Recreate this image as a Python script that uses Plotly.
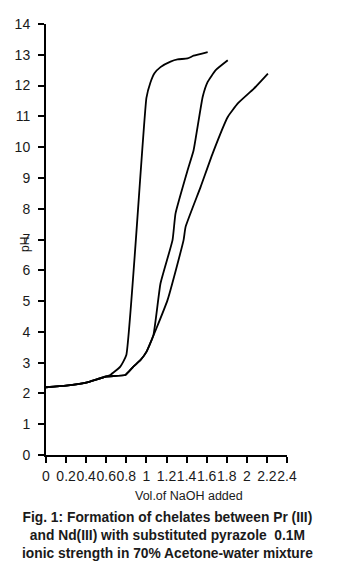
import plotly.graph_objects as go

# Curve 1 (steepest)
x1 = [0, 0.2, 0.4, 0.6, 0.64, 0.74, 0.8, 1.0, 1.04, 1.08, 1.14, 1.24, 1.31, 1.41, 1.47, 1.61]
y1 = [2.2, 2.25, 2.35, 2.55, 2.6, 2.87, 3.25, 11.6, 12.1, 12.4, 12.6, 12.78, 12.85, 12.88, 12.97, 13.09]
# Curve 2 (middle)
x2 = [0, 0.2, 0.4, 0.6, 0.79, 0.87, 0.94, 1.0, 1.07, 1.14, 1.26, 1.29, 1.41, 1.47, 1.56, 1.61, 1.69, 1.81]
y2 = [2.2, 2.25, 2.35, 2.55, 2.6, 2.87, 3.08, 3.35, 3.9, 5.57, 6.98, 7.85, 9.25, 9.9, 11.63, 12.12, 12.5, 12.82]
# Curve 3 (right)
x3 = [0, 0.2, 0.4, 0.6, 0.79, 0.87, 0.94, 1.0, 1.21, 1.37, 1.39, 1.54, 1.66, 1.81, 1.91, 2.07, 2.21]
y3 = [2.2, 2.25, 2.35, 2.55, 2.6, 2.87, 3.08, 3.35, 5.03, 6.98, 7.41, 8.71, 9.8, 10.98, 11.42, 11.9, 12.39]

xticks = [0, 0.2, 0.4, 0.6, 0.8, 1, 1.2, 1.4, 1.6, 1.8, 2, 2.2, 2.4]
xticklabels = ["0", "0.2", "0.4", "0.6", "0.8", "1", "1.2", "1.4", "1.6", "1.8", "2", "2.2", "2.4"]
yticks = list(range(0, 15))

caption = ("Fig. 1: Formation of chelates between Pr (III)<br>"
           "and Nd(III) with substituted pyrazole  0.1M<br>"
           "ionic strength in 70% Acetone-water mixture")

fig = go.Figure()
for xs, ys in [(x1, y1), (x2, y2), (x3, y3)]:
    fig.add_trace(go.Scatter(x=xs, y=ys, mode="lines",
                             line=dict(color="black", width=1.8, shape="spline", smoothing=0.4),
                             showlegend=False, hoverinfo="skip"))

font = "Liberation Sans, Arial, sans-serif"
txt = "#1a1a1a"
fig.update_layout(
    width=338, height=575,
    margin=dict(l=46, r=51, t=24, b=120),
    paper_bgcolor="white", plot_bgcolor="white",
    font=dict(family=font, color=txt, size=14),
    xaxis=dict(range=[0, 2.4], tickvals=xticks, ticktext=xticklabels,
               tickangle=0, ticklabelstandoff=1,
               showgrid=False, zeroline=False, showline=True,
               linecolor="black", linewidth=2, ticks="outside",
               ticklen=6, tickcolor="black", tickwidth=2,
               tickfont=dict(size=14, family=font, color=txt)),
    yaxis=dict(range=[0, 14], tickvals=yticks, ticklabelstandoff=5,
               showgrid=False, zeroline=False, showline=True,
               linecolor="black", linewidth=2, ticks="outside",
               ticklen=6, tickcolor="black", tickwidth=2,
               tickfont=dict(size=14, family=font, color=txt)),
    annotations=[
        dict(text="pH", xref="paper", yref="paper", x=(25 - 46) / 241,
             y=(455 - 245) / 431,
             xanchor="center", yanchor="middle", textangle=-90, showarrow=False,
             font=dict(size=12, family=font, color=txt)),
        dict(text="Vol.of NaOH added", xref="paper", yref="paper", x=(189 - 46) / 241,
             y=-(496 - 455) / 431, xanchor="center", yanchor="middle",
             showarrow=False, font=dict(size=12.5, family=font, color=txt)),
        dict(text=caption, xref="paper", yref="paper", x=(167 - 46) / 241,
             y=-(535 - 455) / 431, xanchor="center", yanchor="middle",
             showarrow=False, align="center",
             font=dict(size=13.8, family=font, color=txt, weight="bold")),
    ],
)

fig.write_html("out.html")
